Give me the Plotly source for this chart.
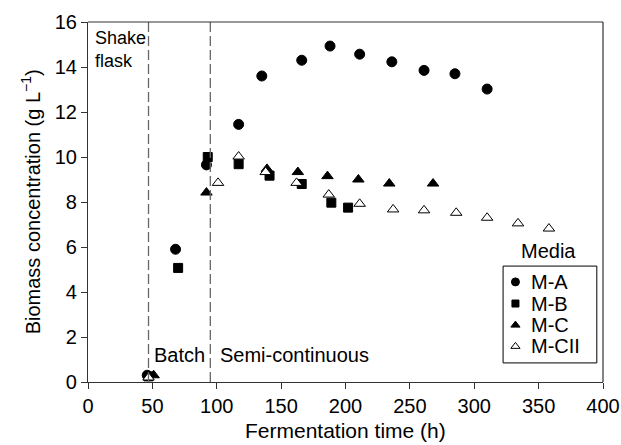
import plotly.graph_objects as go

# Biomass concentration (g/L) over fermentation time (h) for each medium
ma_time = [46, 68, 92, 117, 135, 166, 188, 211, 236, 261, 285, 310]
ma_biomass = [0.3, 5.9, 9.65, 11.45, 13.6, 14.3, 14.93, 14.57, 14.23, 13.85, 13.7, 13.02]

mb_time = [47, 70, 93, 117, 141, 166, 189, 202]
mb_biomass = [0.25, 5.07, 10.0, 9.68, 9.17, 8.8, 7.97, 7.75]

mc_time = [51, 92, 139, 163, 186, 210, 234, 268]
mc_biomass = [0.3, 8.42, 9.47, 9.33, 9.15, 9.0, 8.82, 8.82]

mcii_time = [47, 101, 117, 138, 162, 187, 211, 237, 261, 286, 310, 334, 358]
mcii_biomass = [0.2, 8.85, 10.02, 9.33, 8.85, 8.33, 7.92, 7.67, 7.63, 7.52, 7.3, 7.05, 6.82]

media_names = ["M-A", "M-B", "M-C", "M-CII"]

# Phase boundaries (h)
phase_bounds = [47, 95]

x_ticks = [0, 50, 100, 150, 200, 250, 300, 350, 400]
y_ticks = [0, 2, 4, 6, 8, 10, 12, 14, 16]

FONT = "Liberation Sans, Arial, sans-serif"
AXIS = "#333333"

fig = go.Figure()

styles = [
    dict(symbol="circle", color="black", size=10),
    dict(symbol="square", color="black", size=9),
    dict(symbol="triangle-up", color="black", size=10),
    dict(symbol="triangle-up", color="white", size=10),
]
data = [(ma_time, ma_biomass), (mb_time, mb_biomass),
        (mc_time, mc_biomass), (mcii_time, mcii_biomass)]

for name, (xs, ys), st in zip(media_names, data, styles):
    fig.add_trace(go.Scatter(
        x=xs, y=ys, mode="markers", name=name, showlegend=False,
        marker=dict(**st, line=dict(color="black", width=1)),
    ))

# Compact key ("Media") drawn on an overlay axis spanning the plot area
key_x = 0.83
key_rows = [0.278, 0.218, 0.158, 0.099]
for name, row, st in zip(media_names, key_rows, styles):
    fig.add_trace(go.Scatter(
        x=[key_x], y=[row], xaxis="x2", yaxis="y2", mode="markers",
        showlegend=False, hoverinfo="skip",
        marker=dict(symbol=st["symbol"], color=st["color"], size=st["size"] - 2,
                    line=dict(color="black", width=1)),
    ))
    fig.add_annotation(x=0.857, y=row, xref="paper", yref="paper", text=name,
                       showarrow=False, xanchor="left", yanchor="middle",
                       font=dict(size=20, color="black", family=FONT))
fig.add_shape(type="rect", xref="paper", yref="paper", x0=0.806, x1=0.988,
              y0=0.053, y1=0.322, line=dict(color="black", width=1),
              fillcolor="rgba(0,0,0,0)")
fig.add_annotation(x=0.894, y=0.3625, xref="paper", yref="paper", text="Media",
                   showarrow=False, xanchor="center", yanchor="middle",
                   font=dict(size=20, color="black", family=FONT))

for xb in phase_bounds:
    fig.add_shape(type="line", xref="x", yref="y", x0=xb, x1=xb, y0=0, y1=16,
                  line=dict(color="#666666", width=1.3, dash="10px,4px"))

# Frame on the top and right sides
fig.add_shape(type="line", xref="paper", yref="paper", x0=0, x1=1, y0=1, y1=1,
              line=dict(color=AXIS, width=1.2))
fig.add_shape(type="line", xref="paper", yref="paper", x0=1, x1=1, y0=0, y1=1,
              line=dict(color=AXIS, width=1.2))

fig.add_annotation(x=4, y=15.82, xref="x", yref="y", text="Shake<br>flask",
                   showarrow=False, xanchor="left", yanchor="top", align="left",
                   font=dict(size=18, color="black", family=FONT))
fig.add_annotation(x=49.5, y=1.22, xref="x", yref="y", text="Batch",
                   showarrow=False, xanchor="left", yanchor="middle",
                   font=dict(size=20, color="black", family=FONT))
fig.add_annotation(x=101, y=1.22, xref="x", yref="y", text="Semi-continuous",
                   showarrow=False, xanchor="left", yanchor="middle",
                   font=dict(size=20, color="black", family=FONT))

# Axis titles
fig.add_annotation(x=0.5, y=-0.135, xref="paper", yref="paper",
                   text="Fermentation time (h)", showarrow=False,
                   xanchor="center", yanchor="middle",
                   font=dict(size=21, color="black", family=FONT))
fig.add_annotation(x=-0.112, y=0.5, xref="paper", yref="paper",
                   text="Biomass concentration (g L<sup>\u22121</sup>)",
                   showarrow=False, textangle=-90,
                   xanchor="center", yanchor="middle",
                   font=dict(size=20, color="black", family=FONT))

fig.update_layout(
    width=621, height=445,
    margin=dict(l=88, r=18, t=22, b=63),
    paper_bgcolor="white", plot_bgcolor="white",
    font=dict(family=FONT, size=20, color="black"),
    showlegend=False,
    xaxis=dict(
        range=[0, 400], tickvals=x_ticks, showgrid=False, zeroline=False,
        showline=True, linecolor=AXIS, linewidth=1.2,
        ticks="outside", ticklen=6, tickcolor=AXIS,
        tickfont=dict(size=20), automargin=False,
    ),
    yaxis=dict(
        range=[0, 16], tickvals=y_ticks, showgrid=False, zeroline=False,
        showline=True, linecolor=AXIS, linewidth=1.2,
        ticks="outside", ticklen=6, tickcolor=AXIS,
        tickfont=dict(size=20), automargin=False,
    ),
    xaxis2=dict(range=[0, 1], overlaying="x", visible=False, fixedrange=True),
    yaxis2=dict(range=[0, 1], overlaying="y", visible=False, fixedrange=True),
)

fig.write_html("out.html")
